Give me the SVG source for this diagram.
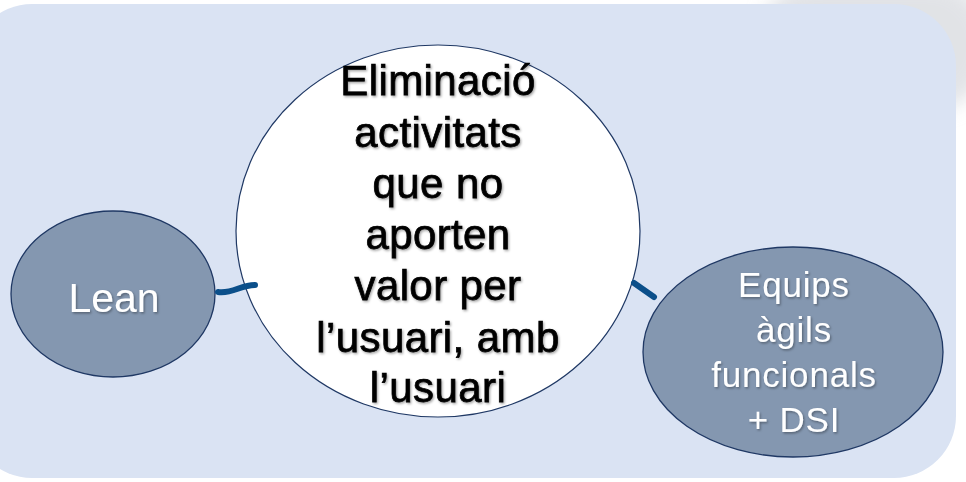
<svg xmlns="http://www.w3.org/2000/svg" width="966" height="482" viewBox="0 0 966 482">
  <defs>
    <filter id="tshadow" x="-10%" y="-10%" width="120%" height="130%">
      <feDropShadow dx="1.2" dy="1.5" stdDeviation="0.8" flood-color="#000" flood-opacity="0.35"/>
    </filter>
    <filter id="bgshadow" x="-20%" y="-50%" width="140%" height="200%">
      <feGaussianBlur stdDeviation="10"/>
    </filter>
    <style>
      .node-dark { fill: #8497b0; stroke: #1f3864; stroke-width: 1.3; }
      .node-light { fill: #ffffff; stroke: #1f3864; stroke-width: 1.2; }
      .conn { fill: none; stroke: #0b4f8a; stroke-width: 6; stroke-linecap: round; }
      .t-dark { font-family: "Liberation Sans", Arial, sans-serif; font-size: 42px; letter-spacing: 0.4px; fill: #000; stroke: #000; stroke-width: 0.75px; text-anchor: middle; }
      .t-light { font-family: "Liberation Sans", Arial, sans-serif; font-size: 35px; letter-spacing: 0.8px; fill: #fff; text-anchor: middle; }
    </style>
  </defs>
  <rect x="0" y="0" width="966" height="482" fill="#ffffff"/>
  <rect x="760" y="-20" width="230" height="130" rx="60" fill="#c4c8cf" opacity="0.5" filter="url(#bgshadow)"/>
  <rect id="background" x="-30" y="4" width="986" height="474" rx="62" fill="#dae3f3"/>

  <g id="node-lean">
    <ellipse class="node-dark" cx="113" cy="294" rx="102" ry="83"/>
    <text class="t-light" x="114" y="312" style="font-size:41px;letter-spacing:0px" filter="url(#tshadow)">Lean</text>
  </g>

  <g id="node-center">
    <ellipse class="node-light" cx="438" cy="231" rx="202" ry="186"/>
    <g filter="url(#tshadow)">
      <text class="t-dark" x="438" y="95">Eliminació</text>
      <text class="t-dark" x="438" y="147">activitats</text>
      <text class="t-dark" x="438" y="198">que no</text>
      <text class="t-dark" x="438" y="249">aporten</text>
      <text class="t-dark" x="438" y="300">valor per</text>
      <text class="t-dark" x="438" y="352">l’usuari, amb</text>
      <text class="t-dark" x="438" y="402">l’usuari</text>
    </g>
  </g>

  <g id="node-equips">
    <ellipse class="node-dark" cx="793" cy="352" rx="150" ry="105"/>
    <g filter="url(#tshadow)">
      <text class="t-light" x="794" y="297">Equips</text>
      <text class="t-light" x="794" y="342">àgils</text>
      <text class="t-light" x="794" y="387">funcionals</text>
      <text class="t-light" x="794" y="432">+ DSI</text>
    </g>
  </g>

  <g id="connectors">
    <path class="conn" d="M218,292 C233,294 240,285 255,285"/>
    <path class="conn" d="M634,283 L654,297"/>
  </g>
</svg>
